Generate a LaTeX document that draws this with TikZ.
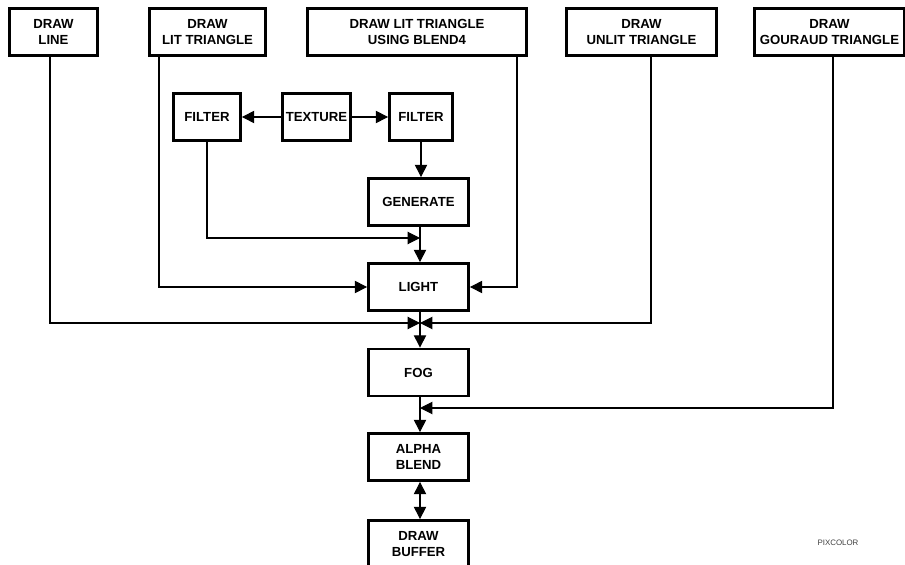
\documentclass[tikz,border=0pt]{standalone}
\usepackage{fontspec}
\setmainfont{Liberation Sans}
\usepackage{tikz}
\usetikzlibrary{arrows.meta}
\definecolor{notegray}{HTML}{404040}

\begin{document}
\begin{tikzpicture}[x=0.02cm, y=-0.02cm, >={Triangle[length=7pt, width=7pt]}]
    \useasboundingbox (0,0) rectangle (905,564);
    \clip (0,0) rectangle (905,564);
    \begin{scope}[every node/.style={draw,
        line width=1.6pt,
        minimum height=0.94cm,
        inner sep=1pt,
        align=center,
        font=\fontsize{7.5}{9.2}\selectfont\bfseries}]
        % entry points
        \node[minimum width=1.76cm] at (53.5,32) (dline) {DRAW\\LINE};
        \node[minimum width=2.32cm] at (207.5,32) (dlit) {DRAW\\LIT TRIANGLE};
        \node[minimum width=4.38cm] at (417,32) (dblend) {DRAW LIT TRIANGLE\\USING BLEND4};
        \node[minimum width=3.0cm] at (641.5,32) (dunlit) {DRAW\\UNLIT TRIANGLE};
        \node[minimum width=3.0cm] at (829.5,32) (dgouraud) {DRAW\\GOURAUD TRIANGLE};
        % texture path
        \node[minimum width=1.34cm] at (207,117) (filterl) {FILTER};
        \node[minimum width=1.36cm] at (316.5,117) (texture) {TEXTURE};
        \node[minimum width=1.26cm] at (421,117) (filterr) {FILTER};
        % pixel pipeline
        \node[minimum width=2.0cm] at (418.5,202) (generate) {GENERATE};
        \node[minimum width=2.0cm] at (418.5,287) (light) {LIGHT};
        \node[minimum width=2.0cm] at (418.5,372.5) (fog) {FOG};
        \node[minimum width=2.0cm] at (418.5,457) (alpha) {ALPHA\\BLEND};
        \node[minimum width=2.0cm] at (418.5,544) (buffer) {DRAW\\BUFFER};
    \end{scope}
    \node[font=\fontsize{4.5}{5}\selectfont, text=notegray] at (838,543) (pixcolor) {PIXCOLOR};

    \coordinate (joingen) at (420,238);
    \coordinate (joinfog) at (420,323);
    \coordinate (joinalpha) at (420,408);

    \begin{scope}[line width=0.6pt]
        \draw[->] (texture) -- (filterl);
        \draw[->] (texture) -- (filterr);
        \draw[->] (filterr.south) -- (generate.north -| filterr.south);
        \draw[->] (generate.south -| joingen) -- (light.north -| joingen);
        \draw[->] (filterl.south) |- (joingen);
        \draw[->] ([xshift=-0.97cm]dlit.south) |- (light.west);
        \draw[->] ([xshift=2.0cm]dblend.south) |- (light.east);
        \draw[->] ([xshift=-0.07cm]dline.south) |- (joinfog);
        \draw[->] ([xshift=0.19cm]dunlit.south) |- (joinfog);
        \draw[->] (light.south -| joinfog) -- (fog.north -| joinfog);
        \draw[->] ([xshift=0.07cm]dgouraud.south) |- (joinalpha);
        \draw[->] (fog.south -| joinalpha) -- (alpha.north -| joinalpha);
        \draw[<->] (alpha.south -| joinalpha) -- (buffer.north -| joinalpha);
    \end{scope}
\end{tikzpicture}
\end{document}
